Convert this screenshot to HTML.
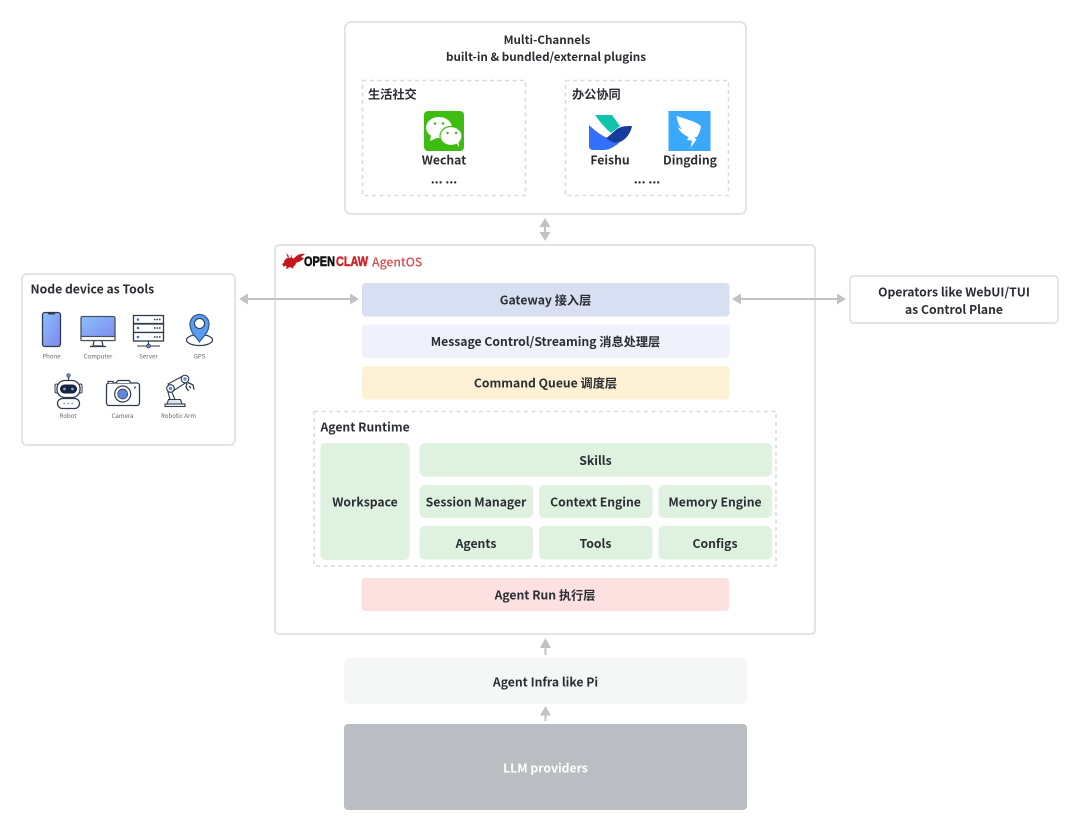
<!DOCTYPE html>
<html><head><meta charset="utf-8"><style>
html,body{margin:0;padding:0;background:#fff;width:1080px;height:831px;overflow:hidden}
svg{display:block}
text{font-family:"Noto Sans CJK SC","Liberation Sans",sans-serif;font-weight:700;font-size:12.2px;fill:#2a2e33;text-anchor:middle;dominant-baseline:central;transform:translateY(-.5px)}
.l{text-anchor:start}
.t{font-size:11.65px}
.s{font-size:6.1px;font-weight:400;fill:#666}
.box{fill:#fff;stroke:#e2e4e6;stroke-width:2}
.dash{fill:#fff;stroke:#d9dbdd;stroke-width:1.6;stroke-dasharray:4 3.5}
.ar{stroke:#c0c3c6;stroke-width:2;fill:none}
.ah{fill:#c0c3c6}
.g{fill:#dff2e0}
.ic{stroke:#2f3a4d;stroke-width:1.3;fill:#fff}
.lg{font-family:"Liberation Sans",sans-serif;font-size:14px;font-weight:700;stroke-width:.55px}
</style></head><body>
<svg width="1080" height="831" viewBox="0 0 1080 831" xmlns="http://www.w3.org/2000/svg">
<defs>
<linearGradient id="bl" x1="0" y1="0" x2="1" y2="1"><stop offset="0" stop-color="#8cc0fb"/><stop offset="1" stop-color="#7d86f0"/></linearGradient>
</defs>

<!-- Top box -->
<rect class="box" x="345" y="22" width="401" height="192" rx="6"/>
<text class="t" x="547" y="40">Multi-Channels</text>
<text class="t" x="546" y="57">built-in &amp; bundled/external plugins</text>
<rect class="dash" x="362.500" y="80.500" width="163" height="115"/>
<rect class="dash" x="565.500" y="80.500" width="163" height="115"/>
<text class="l" x="368" y="94">生活社交</text>
<text class="l" x="572" y="94">办公协同</text>

<!-- Wechat -->
<rect x="424" y="111" width="40" height="40" rx="4" fill="#3dbd12"/>
<ellipse cx="439" cy="127.500" rx="13" ry="10.500" fill="#fff"/>
<path d="M431 135l-1 6 7-3z" fill="#fff"/>
<ellipse cx="451" cy="136" rx="11" ry="9.500" stroke="#3dbd12" stroke-width="1.200" fill="#fff"/>
<path d="M456 143l3 4-.5-6z" fill="#fff"/>
<circle cx="435" cy="123.500" r="1.300" fill="#3dbd12"/><circle cx="443" cy="123.500" r="1.300" fill="#3dbd12"/>
<circle cx="447.500" cy="133" r="1.200" fill="#3dbd12"/><circle cx="456" cy="133" r="1.200" fill="#3dbd12"/>
<text x="444" y="160">Wechat</text>
<text x="444" y="179">... ...</text>

<!-- Feishu -->
<path d="M595 115h17l8 11-9 7c-6-5-11-11-16-18z" fill="#10c3ad"/>
<path d="M589 125c6 6 12 10 18 13 4 2 8 4 12 5-5 4-10 7-16 7h-10c-3 0-4-2-4-4z" fill="#3370ff"/>
<path d="M606 138c4-2 8-7 11-9 4-3 10-3 15-3-1 6-5 13-12 16-5 2-9 0-14-4z" fill="#163c9e"/>
<text x="610" y="160">Feishu</text>

<!-- Dingding -->
<rect x="668.500" y="111" width="42" height="40" fill="#3aa9fb"/>
<path d="M677 116c8 3 18 5 24 10-.5 4-2 8-4 11h-2.500l2 2.500-6 8.500 1.500-7.500-5-.5 1.500-3c-5-2-9-6-11-10 2 1.500 4 2 5 2.500-3-2-5-7-6-13.500z" fill="#fff"/>
<text x="690" y="160">Dingding</text>
<text x="647" y="179">... ...</text>

<!-- Vertical double arrow -->
<path class="ar" d="M545 222v16"/>
<path class="ah" d="M545 218l5.500 9h-11zM545 241l5.500-9h-11z"/>

<!-- Main -->
<rect class="box" x="275" y="245" width="540" height="389" rx="4"/>

<!-- Logo -->
<g fill="#c4161c">
<ellipse cx="290" cy="262.500" rx="6" ry="5"/>
<path d="M293 260c2-4 7-7 12-6-1 1-3 2-4 3l3 1c-2 3-7 5-10 5z"/>
<path d="M288 258l-2-5 3 3zM291 258l0-4 1 4zM285 262l-3 2 2 3 2-3zM287 266l-1 3 3-1zM291 266l1 3 2-2z"/>
</g>
<text class="l lg" x="304" y="261.500" style="fill:#111;stroke:#111" textLength="31" lengthAdjust="spacingAndGlyphs">OPEN</text>
<text class="l lg" x="336" y="261.500" style="fill:#d0242b;stroke:#d0242b" textLength="32" lengthAdjust="spacingAndGlyphs">CLAW</text>
<text class="l" x="372" y="262" style="fill:#d9474c;font-weight:500">AgentOS</text>

<!-- Layers -->
<rect x="362" y="283" width="367.500" height="33.500" rx="4" fill="#d9dff3"/>
<text x="545.500" y="300">Gateway 接入层</text>
<rect x="362" y="324.500" width="367.500" height="33.500" rx="4" fill="#eff2fb"/>
<text x="545.500" y="341.500">Message Control/Streaming 消息处理层</text>
<rect x="362" y="366" width="367.500" height="33.500" rx="4" fill="#fdf1d6"/>
<text x="545.500" y="383">Command Queue 调度层</text>

<!-- Runtime -->
<rect class="dash" x="314" y="411.500" width="462" height="154.500"/>
<text class="l" x="320.500" y="427">Agent Runtime</text>
<rect class="g" x="320.500" y="443" width="89" height="117" rx="5"/>
<text x="365" y="502">Workspace</text>
<rect class="g" x="419.500" y="443" width="352.500" height="33.500" rx="5"/>
<text x="595.500" y="460.500">Skills</text>
<rect class="g" x="419.500" y="485" width="113.500" height="33" rx="5"/>
<text x="476" y="502">Session Manager</text>
<rect class="g" x="539" y="485" width="113.500" height="33" rx="5"/>
<text x="595.500" y="502">Context Engine</text>
<rect class="g" x="658.500" y="485" width="113.500" height="33" rx="5"/>
<text x="715" y="502">Memory Engine</text>
<rect class="g" x="419.500" y="526" width="113.500" height="33.500" rx="5"/>
<text x="476" y="543.500">Agents</text>
<rect class="g" x="539" y="526" width="113.500" height="33.500" rx="5"/>
<text x="595.500" y="543.500">Tools</text>
<rect class="g" x="658.500" y="526" width="113.500" height="33.500" rx="5"/>
<text x="715" y="543.500">Configs</text>

<rect x="361.500" y="578" width="367.500" height="33" rx="4" fill="#fde0e0"/>
<text x="545" y="595">Agent Run 执行层</text>

<!-- Up arrows -->
<path class="ar" d="M545.500 644v11"/><path class="ah" d="M545.500 638l5.500 10h-11z"/>
<rect x="344" y="658" width="403" height="46" rx="5" fill="#f5f6f6"/>
<text x="545.500" y="682">Agent Infra like Pi</text>
<path class="ar" d="M545.500 712v9"/><path class="ah" d="M545.500 706l5.500 9.500h-11z"/>
<rect x="344" y="724" width="403" height="86" rx="4" fill="#babdc1"/>
<text x="545.500" y="768" style="fill:#fff">LLM providers</text>

<!-- Side arrows -->
<path class="ar" d="M246 299h106"/>
<path class="ah" d="M239 299l9-5.500v11zM359 299l-9-5.500v11z"/>
<path class="ar" d="M740 299h98"/>
<path class="ah" d="M732 299l9-5.500v11zM846 299l-9-5.500v11z"/>

<!-- Right box -->
<rect class="box" x="850" y="276" width="208" height="47" rx="4"/>
<text x="954" y="292">Operators like WebUI/TUI</text>
<text x="954" y="309.500">as Control Plane</text>

<!-- Left box -->
<rect class="box" x="22" y="274" width="213" height="171" rx="5"/>
<text class="l" x="30.500" y="289">Node device as Tools</text>

<!-- Phone -->
<rect x="42.500" y="312.500" width="18" height="34" rx="2.500" fill="url(#bl)" stroke="#2f3a4d" stroke-width="1.300"/>
<rect x="48" y="313" width="7" height="1.500" fill="#2f3a4d"/>
<text class="s" x="51.500" y="356.500">Phone</text>

<!-- Computer -->
<rect x="81" y="316.500" width="34" height="24" rx="1.500" fill="url(#bl)" stroke="#4a5260" stroke-width="1.300"/>
<rect x="81" y="336.500" width="34" height="4" fill="#fff" stroke="#4a5260" stroke-width="1.200"/>
<path d="M94 341l-1 5h10l-1-5M90 346.500h16" fill="none" stroke="#2f3a4d" stroke-width="1.200"/>
<text class="s" x="98" y="356.500">Computer</text>

<!-- Server -->
<rect class="ic" x="133.500" y="315.500" width="30" height="8"/>
<rect class="ic" x="133.500" y="324" width="30" height="8.500"/>
<rect class="ic" x="133.500" y="332.500" width="30" height="8.500"/>
<circle cx="138" cy="319.500" r="1.300" fill="#3d6fb5"/><circle cx="138" cy="328" r="1.300" fill="#3d6fb5"/><circle cx="138" cy="337" r="1.300" fill="#3d6fb5"/>
<path d="M154 319.500h7M154 328h7M154 337h7" stroke="#2f3a4d" stroke-width="1.500" stroke-dasharray="1.500 1"/>
<path d="M148.500 341v3M137 346h23" stroke="#2f3a4d" stroke-width="1.100"/>
<circle cx="148.500" cy="346" r="2" fill="#4f86d6" stroke="#2f3a4d" stroke-width=".7"/>
<text class="s" x="148.500" y="356.500">Server</text>

<!-- GPS -->
<ellipse cx="199.500" cy="340" rx="13" ry="5.500" fill="#fff" stroke="#2f3a4d" stroke-width="1.200"/>
<path d="M199.500 342c-3-5-9.500-9-9.500-18a9.500 9.500 0 0 1 19 0c0 9-6.500 13-9.500 18z" fill="#5b9bee" stroke="#2f5a9a" stroke-width="1.200"/>
<circle cx="199.500" cy="323.500" r="5" fill="#fff" stroke="#2f3a4d" stroke-width="1"/>
<text class="s" x="199.500" y="356.500">GPS</text>

<!-- Robot -->
<path d="M68.500 377v4" stroke="#2f3a4d" stroke-width="1.200"/><circle cx="68.500" cy="375.500" r="1.800" fill="#5b8fd8" stroke="#2f3a4d" stroke-width=".6"/>
<rect x="55" y="384" width="3" height="9" rx="1.500" fill="#fff" stroke="#2f3a4d"/>
<rect x="79" y="384" width="3" height="9" rx="1.500" fill="#fff" stroke="#2f3a4d"/>
<rect class="ic" x="57" y="380.500" width="23" height="17" rx="8"/>
<rect x="60" y="384.500" width="17" height="9" rx="4.500" fill="#16233c"/>
<circle cx="64.500" cy="389" r="1.400" fill="#6fa4ef"/><circle cx="72.500" cy="389" r="1.400" fill="#6fa4ef"/>
<rect class="ic" x="57.500" y="398.500" width="22" height="10" rx="5"/>
<path d="M63.500 403.500h10" stroke="#6a9be0" stroke-width="1.500" stroke-dasharray="1.500 2.500"/>
<text class="s" x="68" y="416">Robot</text>

<!-- Camera -->
<rect x="106.500" y="383" width="33" height="22.500" rx="2.500" fill="#fff" stroke="#2f3a4d" stroke-width="1.300"/>
<path d="M108 383v-1.500h5v1.500M116 383l2-2.500h11l2 2.500" fill="#fff" stroke="#2f3a4d" stroke-width="1.200"/>
<circle cx="122.700" cy="394" r="8" fill="#fff" stroke="#2f3a4d" stroke-width="1.200"/>
<circle cx="122.700" cy="394" r="5" fill="#5f86dd" stroke="#2f3a4d" stroke-width=".7"/>
<circle cx="135" cy="387.500" r="1.200" fill="#4f7fcf"/>
<text class="s" x="122.500" y="416">Camera</text>

<!-- Robotic arm -->
<rect x="165" y="404" width="20" height="2.500" fill="#fff" stroke="#2f3a4d" stroke-width="1.100"/>
<path d="M167 404l1.500-4.500h12l1.500 4.500z" fill="#dfe3ea" stroke="#2f3a4d" stroke-width="1.100"/>
<path d="M168 392l3-2 4 9.500h-5z" fill="#fff" stroke="#2f3a4d" stroke-width="1.100"/>
<path d="M168 384l15-8 4 6-14 9z" fill="#fff" stroke="#2f3a4d" stroke-width="1.100"/>
<circle cx="170.500" cy="388.500" r="3.800" fill="#fff" stroke="#2f3a4d" stroke-width="1.100"/><circle cx="170.500" cy="388.500" r="1.700" fill="#5b8fd8"/>
<circle cx="185" cy="379" r="3.800" fill="#fff" stroke="#2f3a4d" stroke-width="1.100"/><circle cx="185" cy="379" r="1.700" fill="#5b8fd8"/>
<path d="M187 383l-1 4 2.500 4M188 382.500l5 2.500 1 4.500M189 386l2 2" fill="none" stroke="#2f3a4d" stroke-width="1.300"/>
<text class="s" x="178.500" y="416">Robotic Arm</text>
</svg>
</body></html>
